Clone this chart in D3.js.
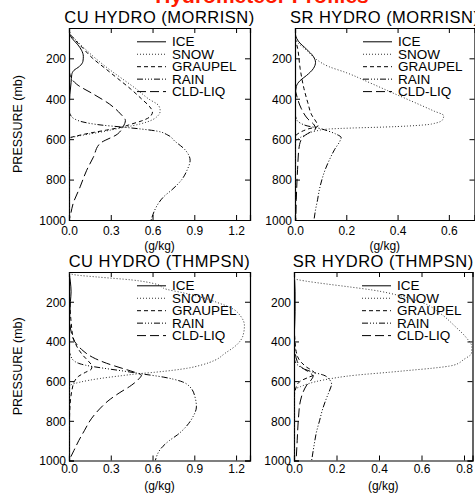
<!DOCTYPE html>
<html>
<head>
<meta charset="utf-8">
<script src="https://cdn.jsdelivr.net/npm/d3@7/dist/d3.min.js"></script>
<style>
body { margin: 0; background: #fff; }
svg { display: block; font-family: "Liberation Sans", Arial, Helvetica, sans-serif; }
</style>
</head>
<body>
<svg id="chart" width="475" height="494"></svg>
<script>
// legend names, in IDL linestyle order
var species = ["ICE", "SNOW", "GRAUPEL", "RAIN", "CLD-LIQ"];
var pressureTicks = [200, 400, 600, 800, 1000];

// each profile is a list of [pressure (mb), mixing ratio (g/kg)]
// CU HYDRO (MORRISN)
var cuMorIce = [[50,0],[80,0.005],[100,0.02],[130,0.06],[160,0.09],[190,0.103],[215,0.1],[240,0.075],[260,0.035],[280,0.02],[320,0.015],[380,0.006],[450,0.002],[550,0],[1000,0]];
var cuMorSnow = [[55,0],[80,0.01],[110,0.05],[150,0.11],[200,0.19],[250,0.28],[300,0.38],[350,0.48],[400,0.57],[435,0.645],[460,0.655],[490,0.63],[515,0.56],[533,0.46],[545,0.37],[566,0.22],[583,0.08],[595,0.01],[605,0],[1000,0]];
var cuMorGraupel = [[55,0],[80,0.01],[110,0.045],[150,0.10],[200,0.17],[250,0.26],[300,0.35],[350,0.44],[400,0.52],[440,0.58],[465,0.6],[490,0.58],[510,0.52],[525,0.45],[540,0.38],[555,0.27],[570,0.15],[585,0.05],[595,0],[1000,0]];
var cuMorRain = [[460,0],[480,0.01],[500,0.04],[515,0.1],[530,0.23],[540,0.38],[550,0.52],[560,0.63],[580,0.71],[610,0.76],[650,0.83],[705,0.87],[750,0.85],[800,0.81],[850,0.74],[885,0.68],[920,0.64],[960,0.61],[1000,0.59]];
var cuMorCloud = [[250,0],[290,0.01],[328,0.055],[377,0.175],[426,0.29],[475,0.37],[508,0.405],[537,0.39],[574,0.35],[623,0.22],[689,0.175],[754,0.127],[836,0.08],[918,0.03],[984,0.007],[1000,0]];

// SR HYDRO (MORRISN)
var srMorIce = [[60,0],[90,0.003],[115,0.013],[155,0.045],[190,0.071],[220,0.08],[250,0.072],[285,0.045],[310,0.02],[340,0.005],[400,0],[1000,0]];
var srMorSnow = [[100,0],[125,0.013],[160,0.045],[206,0.084],[240,0.13],[271,0.2],[320,0.29],[369,0.377],[426,0.48],[460,0.54],[484,0.58],[505,0.575],[520,0.55],[530,0.5],[540,0.35],[545,0.22],[550,0.13],[560,0.08],[580,0.04],[600,0.01],[615,0],[1000,0]];
var srMorGraupel = [[100,0],[150,0.01],[250,0.02],[350,0.035],[420,0.05],[480,0.065],[520,0.085],[535,0.09],[550,0.05],[570,0.015],[590,0],[1000,0]];
var srMorRain = [[470,0],[500,0.005],[520,0.02],[535,0.05],[545,0.09],[560,0.13],[575,0.16],[592,0.18],[610,0.175],[650,0.155],[700,0.135],[750,0.118],[800,0.105],[850,0.095],[900,0.088],[950,0.08],[1000,0.074]];
var srMorCloud = [[350,0],[400,0.01],[450,0.025],[500,0.05],[530,0.075],[550,0.08],[565,0.06],[580,0.04],[600,0.025],[650,0.015],[750,0.01],[900,0.005],[1000,0.003]];

// CU HYDRO (THMPSN)
var cuThmIce = [[50,0],[100,0.01],[150,0.015],[200,0.01],[300,0.003],[400,0],[1000,0]];
var cuThmSnow = [[55,0],[65,0.05],[75,0.2],[90,0.45],[110,0.62],[137,0.7],[155,0.82],[175,0.94],[205,1.07],[237,1.18],[270,1.23],[320,1.26],[370,1.25],[420,1.2],[460,1.12],[494,1.05],[519,0.95],[535,0.85],[545,0.75],[555,0.62],[562,0.51],[575,0.35],[587,0.22],[605,0.08],[620,0.01],[630,0],[1000,0]];
var cuThmGraupel = [[100,0],[200,0.005],[300,0.015],[380,0.03],[430,0.06],[470,0.1],[500,0.14],[525,0.165],[540,0.16],[555,0.12],[575,0.07],[600,0.04],[650,0.02],[700,0.01],[800,0.003],[900,0],[1000,0]];
var cuThmRain = [[440,0],[470,0.01],[500,0.04],[520,0.12],[535,0.25],[550,0.4],[562,0.51],[580,0.68],[600,0.8],[630,0.87],[680,0.905],[730,0.915],[780,0.89],[830,0.84],[870,0.78],[900,0.72],[940,0.66],[1000,0.62]];
var cuThmCloud = [[250,0],[300,0.005],[350,0.015],[400,0.04],[440,0.09],[480,0.17],[510,0.27],[535,0.38],[555,0.47],[570,0.52],[590,0.5],[620,0.45],[660,0.36],[700,0.28],[740,0.22],[790,0.16],[850,0.11],[900,0.07],[950,0.035],[1000,0]];

// SR HYDRO (THMPSN)
var srThmIce = [[50,0],[150,0.005],[250,0.005],[350,0.002],[450,0],[1000,0]];
var srThmSnow = [[85,0],[95,0.05],[110,0.15],[125,0.26],[141,0.37],[170,0.5],[207,0.61],[260,0.69],[326,0.76],[380,0.81],[427,0.837],[460,0.835],[490,0.8],[520,0.75],[535,0.65],[545,0.55],[555,0.45],[570,0.29],[594,0.14],[628,0.03],[645,0],[1000,0]];
var srThmGraupel = [[300,0],[400,0.005],[450,0.01],[500,0.03],[530,0.06],[550,0.09],[565,0.1],[580,0.07],[600,0.03],[630,0.01],[700,0],[1000,0]];
var srThmRain = [[480,0],[510,0.01],[535,0.04],[555,0.09],[570,0.14],[590,0.165],[615,0.177],[640,0.17],[680,0.155],[740,0.135],[800,0.12],[860,0.105],[920,0.095],[1000,0.083]];
var srThmCloud = [[400,0],[450,0.005],[500,0.015],[530,0.035],[555,0.07],[575,0.09],[595,0.08],[620,0.06],[650,0.045],[700,0.03],[800,0.02],[900,0.015],[1000,0.01]];

// IDL-ish line styles: solid, dotted, dashed, dash-dot-dot-dot, long dash
var dashes = [null, "1,2", "4,3", "6,2,1,2,1,2,1,2", "9,4"];

var panels = [
  {title: "CU HYDRO (MORRISN)", left: 69, right: 250, top: 28, bottom: 220, xmax: 1.3,
   xticks: [0, 0.3, 0.6, 0.9, 1.2], ylabel: true, pad: 6,
   profiles: [cuMorIce, cuMorSnow, cuMorGraupel, cuMorRain, cuMorCloud]},
  {title: "SR HYDRO (MORRISN)", left: 295, right: 474.5, top: 28, bottom: 220, xmax: 0.7,
   xticks: [0, 0.2, 0.4, 0.6], ylabel: false, pad: 6,
   profiles: [srMorIce, srMorSnow, srMorGraupel, srMorRain, srMorCloud]},
  {title: "CU HYDRO (THMPSN)", left: 69, right: 250, top: 272, bottom: 460.5, xmax: 1.3,
   xticks: [0, 0.3, 0.6, 0.9, 1.2], ylabel: true, pad: 4,
   profiles: [cuThmIce, cuThmSnow, cuThmGraupel, cuThmRain, cuThmCloud]},
  {title: "SR HYDRO (THMPSN)", left: 294, right: 472.5, top: 272, bottom: 460.5, xmax: 0.84,
   xticks: [0, 0.2, 0.4, 0.6, 0.8], ylabel: false, pad: 4,
   profiles: [srThmIce, srThmSnow, srThmGraupel, srThmRain, srThmCloud]}
];

var svg = d3.select("#chart");

// main title, mostly cut off at the top of the window
svg.append("text")
  .attr("x", 262).attr("y", 3)
  .attr("text-anchor", "middle")
  .attr("font-size", 21).attr("font-weight", "bold")
  .attr("fill", "#ff1a00")
  .text("Hydrometeor Profiles");

panels.forEach(function (p, i) {
  var x = d3.scaleLinear().domain([0, p.xmax]).range([p.left, p.right]);
  var y = d3.scaleLinear().domain([1000, 50]).range([p.bottom, p.top]);
  var g = svg.append("g");

  g.append("clipPath").attr("id", "clip" + i)
    .append("rect")
    .attr("x", p.left).attr("y", p.top)
    .attr("width", p.right - p.left).attr("height", p.bottom - p.top);

  // title
  g.append("text")
    .attr("x", (p.left + p.right) / 2).attr("y", p.top - 5.5)
    .attr("text-anchor", "middle")
    .attr("font-size", 16.5).attr("letter-spacing", 0.5)
    .text(p.title);

  // axes: ticks inward on all four sides
  var bottomAxis = d3.axisBottom(x).tickValues(p.xticks).tickSize(-5).tickFormat(d3.format(".1f"));
  var topAxis = d3.axisTop(x).tickValues(p.xticks).tickSize(-5).tickFormat("");
  var leftAxis = d3.axisLeft(y).tickValues(pressureTicks).tickSize(-5).tickFormat(d3.format("d"));
  var rightAxis = d3.axisRight(y).tickValues(pressureTicks).tickSize(-5).tickFormat("");

  var axB = g.append("g").attr("transform", "translate(0," + p.bottom + ")").call(bottomAxis);
  var axT = g.append("g").attr("transform", "translate(0," + p.top + ")").call(topAxis);
  var axL = g.append("g").attr("transform", "translate(" + p.left + ",0)").call(leftAxis);
  var axR = g.append("g").attr("transform", "translate(" + p.right + ",0)").call(rightAxis);

  [axB, axT, axL, axR].forEach(function (a) {
    a.select(".domain").attr("stroke", "#000").attr("stroke-width", 1.2);
    a.selectAll(".tick line").attr("stroke", "#000").attr("stroke-width", 1);
    a.selectAll("text").attr("fill", "#000").attr("font-size", 12)
      .attr("font-family", "Liberation Sans, Arial, sans-serif");
  });
  axB.selectAll("text").attr("y", p.pad).attr("dy", "0.71em");
  axL.selectAll("text").attr("x", -3).attr("dy", "0.36em");

  // x axis title
  g.append("text")
    .attr("x", (p.left + p.right) / 2).attr("y", p.bottom + 29.5)
    .attr("text-anchor", "middle").attr("font-size", 12)
    .text("(g/kg)");

  if (p.ylabel) {
    g.append("text")
      .attr("transform", "translate(22," + (p.top + p.bottom) / 2 + ") rotate(-90)")
      .attr("text-anchor", "middle").attr("font-size", 12.5)
      .text("PRESSURE (mb)");
  }

  // profiles
  var line = d3.line()
    .x(function (d) { return x(d[1]); })
    .y(function (d) { return y(d[0]); })
    .curve(d3.curveMonotoneY);

  var curves = g.append("g").attr("clip-path", "url(#clip" + i + ")");
  p.profiles.forEach(function (prof, k) {
    curves.append("path")
      .datum(prof)
      .attr("d", line)
      .attr("fill", "none")
      .attr("stroke", k === 1 ? "#333" : "#000")
      .attr("stroke-width", 1)
      .attr("stroke-dasharray", dashes[k]);
  });

  // legend
  var lg = g.append("g");
  species.forEach(function (name, k) {
    var ly = p.top + 13.8 + k * 12.45;
    lg.append("line")
      .attr("x1", p.left + 68).attr("x2", p.left + 97)
      .attr("y1", ly).attr("y2", ly)
      .attr("stroke", k === 1 ? "#333" : "#000").attr("stroke-width", 1)
      .attr("stroke-dasharray", dashes[k]);
    lg.append("text")
      .attr("x", p.left + 103).attr("y", ly + 4.6)
      .attr("font-size", 13.5)
      .text(name);
  });
});
</script>
</body>
</html>
